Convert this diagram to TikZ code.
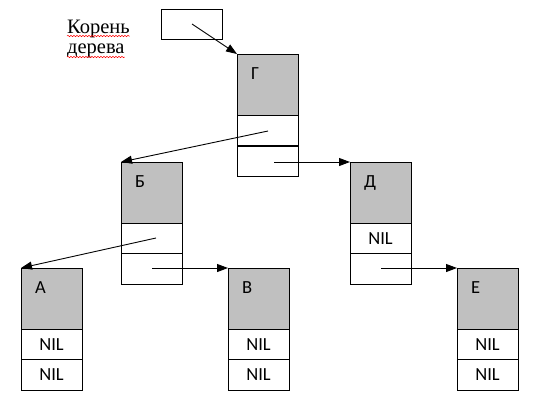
\documentclass[tikz,border=0pt]{standalone}
\usepackage{fontspec}
\setmainfont{Liberation Serif}
\newfontfamily\calib{Carlito}
\usetikzlibrary{arrows.meta,decorations.pathmorphing}
\definecolor{keygray}{HTML}{C0C0C0}
\newcommand\lblfont{\calib\fontsize{18.5}{21}\selectfont}
\newcommand\treenode[6]{%
  \node[keybox] (#1) at (#2,#3) {};
  \path (#1.north west) ++(14pt,-25.5pt) node[anchor=base west, inner sep=0, font=\lblfont] (#1l) {#4};
  \node[cellbox] (#1a) at (#1.south west) {#5};
  \node[cellbox] (#1b) at (#1a.south west) {#6};
}
\begin{document}
\begin{tikzpicture}[x=1pt,y=-1pt,
  keybox/.style={draw, line width=0.8pt, fill=keygray, minimum width=61pt, minimum height=61pt, anchor=north west, inner sep=0, outer sep=0},
  cellbox/.style={draw, line width=0.8pt, minimum width=61pt, minimum height=30.5pt, anchor=north west, inner sep=0, outer sep=0, font=\lblfont},
  ptr/.style={-{Triangle[length=11pt,width=8pt]}, line width=0.9pt},
  squig/.style={red, line width=0.5pt, decorate, decoration={snake, amplitude=0.7pt, segment length=3pt}}]
\useasboundingbox (0,0) rectangle (538,405);
\fill[white] (0,0) rectangle (538,405);
% root label
\node[anchor=base west, inner sep=0, font=\fontsize{20.5}{22}\selectfont] (korn) at (67,33) {Корень};
\node[anchor=base west, inner sep=0, font=\fontsize{20.5}{22}\selectfont] (der) at (67,53.5) {дерева};
\draw[squig] ([yshift=-3pt]korn.base west) -- ([yshift=-3pt]korn.base east);
\draw[squig] ([yshift=-3.5pt]der.base west) -- ([yshift=-3.5pt]der.base east);
% root pointer box
\node[draw, line width=0.8pt, minimum width=61pt, minimum height=30pt, anchor=north west, inner sep=0, outer sep=0] (root) at (161,9) {};
% tree nodes
\treenode{G}{237}{54}{Г}{}{}
\treenode{B}{121}{162}{Б}{}{}
\treenode{D}{350}{162}{Д}{NIL}{}
\treenode{A}{21}{268}{А}{NIL}{NIL}
\treenode{V}{228}{268}{В}{NIL}{NIL}
\treenode{E}{457}{268}{Е}{NIL}{NIL}
\draw[line width=2pt] (Gb.north west) -- (Gb.north east);
% pointer origins
\coordinate (rootp) at (192,24);
\coordinate (gl) at (268,131);
\coordinate (gr) at (274,162);
\coordinate (bl) at (156,238);
\coordinate (br) at (152,268);
\coordinate (dr) at (381,268);
% pointers
\draw[ptr] (rootp) -- (G.north west);
\draw[ptr] (gl) -- (B.north west);
\draw[ptr] (gr) -- (D.north west);
\draw[ptr] (bl) -- (A.north west);
\draw[ptr] (br) -- (V.north west);
\draw[ptr] (dr) -- (E.north west);
\end{tikzpicture}
\end{document}
